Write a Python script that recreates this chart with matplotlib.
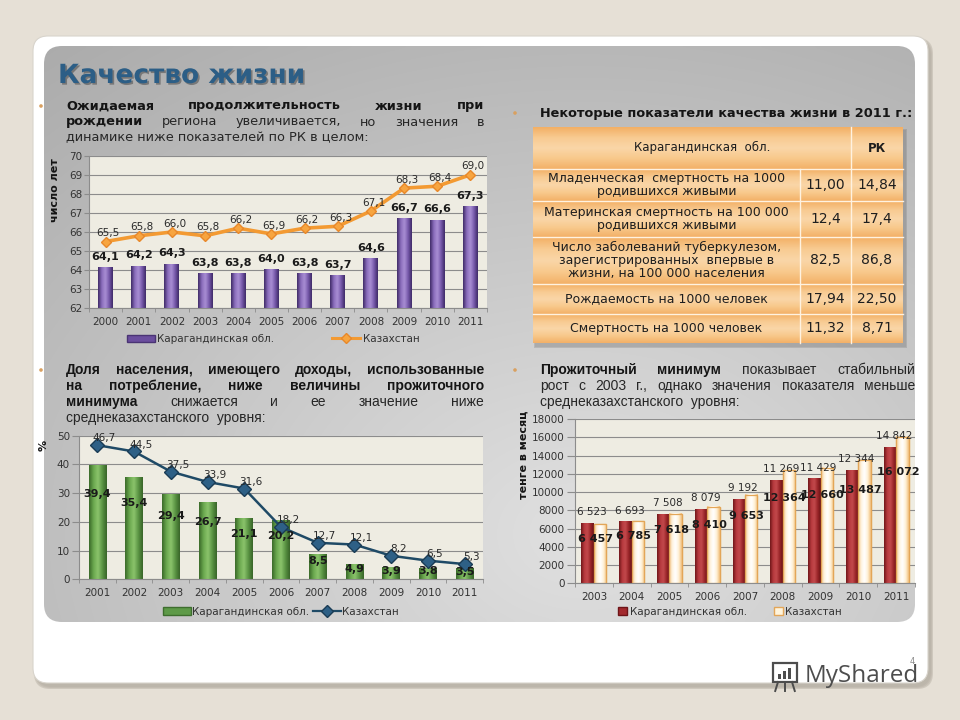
import numpy as np
import matplotlib as mpl
mpl.use('Agg')
import matplotlib.pyplot as plt
import matplotlib.patheffects as pe
from matplotlib.colors import LinearSegmentedColormap
from matplotlib.patches import FancyBboxPatch, Rectangle, Circle
from matplotlib.lines import Line2D

mpl.rc('font', family='DejaVu Sans')

# ---- data -------------------------------------------------------------
years_life = ['2000', '2001', '2002', '2003', '2004', '2005',
              '2006', '2007', '2008', '2009', '2010', '2011']
life_karaganda = [64.1, 64.2, 64.3, 63.8, 63.8, 64.0, 63.8, 63.7, 64.6, 66.7, 66.6, 67.3]
life_kaz = [65.5, 65.8, 66.0, 65.8, 66.2, 65.9, 66.2, 66.3, 67.1, 68.3, 68.4, 69.0]

years_share = ['2001', '2002', '2003', '2004', '2005', '2006',
               '2007', '2008', '2009', '2010', '2011']
share_karaganda = [39.4, 35.4, 29.4, 26.7, 21.1, 20.2, 8.5, 4.9, 3.9, 3.8, 3.5]
share_kaz = [46.7, 44.5, 37.5, 33.9, 31.6, 18.2, 12.7, 12.1, 8.2, 6.5, 5.3]

years_min = ['2003', '2004', '2005', '2006', '2007', '2008', '2009', '2010', '2011']
min_karaganda = [6523, 6693, 7508, 8079, 9192, 11269, 11429, 12344, 14842]
min_kaz = [6457, 6785, 7618, 8410, 9653, 12364, 12660, 13487, 16072]

table_header = ['Карагандинская  обл.', 'РК']
table_rows = [
    'Младенческая  смертность на 1000\nродившихся живыми',
    'Материнская смертность на 100 000\nродившихся живыми',
    'Число заболеваний туберкулезом,\nзарегистрированных  впервые в\nжизни, на 100 000 населения',
    'Рождаемость на 1000 человек',
    'Смертность на 1000 человек',
]
table_region = ['11,00', '12,4', '82,5', '17,94', '11,32']
table_rk = ['14,84', '17,4', '86,8', '22,50', '8,71']

legend_names = ['Карагандинская обл.', 'Казахстан']

W, H = 960, 720


def comma(v):
    return f'{v:.1f}'.replace('.', ',')


def spaced(v):
    return f'{v:,}'.replace(',', ' ')


def shade(ax, bars, colors, floor=0):
    # horizontal gradient drawn over each bar, limited to the visible range
    cmap = LinearSegmentedColormap.from_list('shade', colors)
    grad = np.linspace(0, 1, 64).reshape(1, -1)
    for b in bars:
        x0 = b.get_x()
        y0 = max(b.get_y(), floor)
        ax.imshow(grad, cmap=cmap, aspect='auto', interpolation='bicubic',
                  extent=(x0, x0 + b.get_width(), y0, b.get_y() + b.get_height()),
                  zorder=b.get_zorder() + 0.1)


def style_axes(ax, n):
    ax.set_facecolor('#EEECE2')
    ax.set_xlim(-0.5, n - 0.5)
    ax.set_xticks(np.arange(n))
    ax.set_xticks(np.arange(n + 1) - 0.5, minor=True)
    ax.tick_params(axis='x', which='major', length=0, pad=6.5, labelsize=7.5,
                   labelcolor='#333333')
    ax.tick_params(axis='x', which='minor', length=3, color='#8C8C8C')
    ax.tick_params(axis='y', length=3.5, pad=1.5, labelsize=7.5,
                   labelcolor='#333333', color='#8C8C8C')
    ax.grid(axis='y', color='#8C8C8C', lw=0.8, zorder=0)
    ax.set_axisbelow(True)
    for s in ('top', 'right'):
        ax.spines[s].set_visible(False)
    for s in ('left', 'bottom'):
        ax.spines[s].set_color('#8C8C8C')
        ax.spines[s].set_linewidth(0.8)


fig = plt.figure(figsize=(W / 100, H / 100), dpi=100)
fig.patch.set_facecolor('#E6E0D6')

# ---- background slide in pixel coordinates ----------------------------
bg = fig.add_axes([0, 0, 1, 1], zorder=0)
bg.set_xlim(0, W)
bg.set_ylim(H, 0)
bg.axis('off')

for k, a in enumerate([0.10, 0.16, 0.25]):
    bg.add_patch(FancyBboxPatch((36 - k, 40 - k), 895 + 2 * k, 647 + 2 * k,
                                boxstyle='round,pad=0,rounding_size=16',
                                fc='#8A8175', ec='none', alpha=a))
bg.add_patch(FancyBboxPatch((33, 36), 895, 647, boxstyle='round,pad=0,rounding_size=15',
                            fc='white', ec='#D8D4CC', lw=0.8))

panel = FancyBboxPatch((44, 46), 871, 576, boxstyle='round,pad=0,rounding_size=18',
                       fc='none', ec='none')
bg.add_patch(panel)
uu, vv = np.meshgrid(np.linspace(0, 1, 200), np.linspace(0, 1, 150))
rr = np.sqrt(((uu - 0.62) / 0.8) ** 2 + ((vv - 0.85) / 0.9) ** 2)
val = np.clip(0.88 - 0.17 * rr, 0, 1)
img = bg.imshow(np.dstack([val, val, val]), extent=(44, 915, 622, 46),
                aspect='auto', interpolation='bicubic', zorder=1)
img.set_clip_path(panel)

# title
bg.text(58, 76, 'Качество жизни', fontsize=19, fontweight='bold', color='#2C5E86',
        va='center', ha='left', zorder=3,
        path_effects=[pe.withSimplePatchShadow(offset=(1.2, -1.2),
                                               shadow_rgbFace='#333333', alpha=0.45)])

renderer = fig.canvas.get_renderer()


def text_line(words, x0, x1, y, size, family, justify=True):
    texts = []
    for w, bold in words:
        t = bg.text(x0, y, w, fontsize=size, family=family, va='center', ha='left',
                    fontweight='bold' if bold else 'normal',
                    color='#151515' if bold else '#262626', zorder=3)
        texts.append(t)
    if not justify or len(texts) == 1:
        return
    widths = [t.get_window_extent(renderer).width for t in texts]
    gap = (x1 - x0 - sum(widths)) / (len(texts) - 1)
    x = x0
    for t, w in zip(texts, widths):
        t.set_x(x)
        x += w + gap


B, N = True, False
para1 = [
    [('Ожидаемая', B), ('продолжительность', B), ('жизни', B), ('при', B)],
    [('рождении', B), ('региона', N), ('увеличивается,', N), ('но', N),
     ('значения', N), ('в', N)],
    [('динамике ниже показателей по РК в целом:', N)],
]
for i, words in enumerate(para1):
    text_line(words, 66, 484, 106 + 16 * i, 9.3, 'DejaVu Sans', justify=i < 2)

text_line([('Некоторые показатели качества жизни в 2011 г.:', B)], 540, 925, 113,
          9.3, 'DejaVu Sans', justify=False)

narrow = 'Liberation Sans'
para3 = [
    [('Доля', B), ('населения,', B), ('имеющего', B), ('доходы,', B),
     ('использованные', B)],
    [('на', B), ('потребление,', B), ('ниже', B), ('величины', B),
     ('прожиточного', B)],
    [('минимума', B), ('снижается', N), ('и', N), ('ее', N), ('значение', N),
     ('ниже', N)],
    [('среднеказахстанского  уровня:', N)],
]
for i, words in enumerate(para3):
    text_line(words, 66, 484, 370 + 16 * i, 10, narrow, justify=i < 3)

para4 = [
    [('Прожиточный', B), ('минимум', B), ('показывает', N), ('стабильный', N)],
    [('рост', N), ('с', N), ('2003', N), ('г.,', N), ('однако', N), ('значения', N),
     ('показателя', N), ('меньше', N)],
    [('среднеказахстанского  уровня:', N)],
]
for i, words in enumerate(para4):
    text_line(words, 540, 915, 370 + 16 * i, 10, narrow, justify=i < 2)

for bx, by in [(41, 106), (515, 113), (41, 370), (515, 370)]:
    bg.add_patch(Circle((bx, by), 1.8, fc='#D9A060', ec='none', zorder=3))

# axis titles placed like the slide
bg.text(55, 190, 'число лет', rotation=90, fontsize=8, fontweight='bold',
        va='center', ha='center', color='#151515', zorder=3)
bg.text(44, 445, '%', rotation=90, fontsize=8, fontweight='bold',
        va='center', ha='center', color='#151515', zorder=3)
bg.text(524, 455, 'тенге в месяц', rotation=90, fontsize=8, fontweight='bold',
        va='center', ha='center', color='#151515', zorder=3)

# ---- table ------------------------------------------------------------
row_edges = [127, 169, 201, 237, 284, 314, 343]
tx0, tc1, tc2, tx1 = 533, 800, 851, 903
for k, a in enumerate([0.12, 0.2]):
    bg.add_patch(Rectangle((tx0 + 2 - k, row_edges[0] + 3 - k), tx1 - tx0 + 2 * k + 1,
                           row_edges[-1] - row_edges[0] + 2 * k + 1,
                           fc='#555555', ec='none', alpha=a, zorder=2))
cell_cmap = LinearSegmentedColormap.from_list('cell', ['#F3B066', '#F8CB92', '#FAD6A8',
                                                       '#F8C98C', '#F3B168'])
for top, bot in zip(row_edges[:-1], row_edges[1:]):
    gy = np.linspace(0, 1, 40).reshape(-1, 1)
    bg.imshow(gy, cmap=cell_cmap, extent=(tx0, tx1, bot, top), aspect='auto',
              interpolation='bicubic', zorder=2.5)
for y in row_edges[1:-1]:
    bg.plot([tx0, tx1], [y, y], color='#FFF2E0', lw=1, zorder=2.6)
bg.plot([tc2, tc2], [row_edges[0], row_edges[-1]], color='#FFF2E0', lw=1, zorder=2.6)
bg.plot([tc1, tc1], [row_edges[1], row_edges[-1]], color='#FFF2E0', lw=1, zorder=2.6)

bg.text((tx0 + tc2) / 2 + 10, (row_edges[0] + row_edges[1]) / 2 - 1, table_header[0],
        fontsize=8.5, ha='center', va='center', color='#1E1E1E', zorder=3)
bg.text((tc2 + tx1) / 2, (row_edges[0] + row_edges[1]) / 2, table_header[1],
        fontsize=8.5, fontweight='bold', ha='center', va='center', color='#1E1E1E', zorder=3)
for i, name in enumerate(table_rows):
    yc = (row_edges[i + 1] + row_edges[i + 2]) / 2
    bg.text((tx0 + tc1) / 2, yc, name, fontsize=9, ha='center', va='center',
            linespacing=1.0, color='#1E1E1E', zorder=3)
    bg.text((tc1 + tc2) / 2, yc, table_region[i], fontsize=10, ha='center',
            va='center', color='#1E1E1E', zorder=3)
    bg.text((tc2 + tx1) / 2, yc, table_rk[i], fontsize=10, ha='center',
            va='center', color='#1E1E1E', zorder=3)

# ---- watermark ----------------------------------------------------------
bg.add_patch(Rectangle((773, 663), 24, 19, fc='none', ec='#4D4D4D', lw=1.6, zorder=3))
for j, hh in enumerate([5, 8, 11]):
    bg.add_patch(Rectangle((778 + 5 * j, 679 - hh), 3, hh, fc='#4D4D4D', ec='none', zorder=3))
for lx in (778, 785, 792):
    bg.plot([lx, lx + (lx - 785) * 0.4], [682, 691], color='#4D4D4D', lw=1.4, zorder=3)
bg.text(805, 676, 'MyShared', fontsize=17.5, color='#4D4D4D', va='center', ha='left',
        family='Open Sans', zorder=3)
bg.text(912, 661, '4', fontsize=6, color='#8A8A8A', va='center', ha='center', zorder=3)

# ---- chart 1: life expectancy ----------------------------------------
ax1 = fig.add_axes([89 / W, 1 - 308.3 / H, 398 / W, 152.6 / H], zorder=2)
x1 = np.arange(len(years_life))
bars1 = ax1.bar(x1, life_karaganda, width=0.45, color='#6B4E9E', zorder=2)
shade(ax1, bars1, ['#3E2A66', '#8A6CBC', '#A98FD4', '#7658AA', '#3E2A66'], floor=62)
ax1.plot(x1, life_kaz, color='#F39A32', lw=2.6, marker='D', ms=5.5,
         mfc='#F7A540', mec='#E8882A', zorder=4)
style_axes(ax1, len(years_life))
ax1.set_ylim(62, 70)
ax1.set_yticks(np.arange(62, 71, 1))
ax1.set_xticklabels(years_life)
for xi, v in zip(x1, life_karaganda):
    ax1.annotate(comma(v), (xi, v), xytext=(0, 8), textcoords='offset points',
                 ha='center', va='center', fontsize=8, fontweight='bold',
                 color='#1A1A1A', zorder=5)
for xi, v in zip(x1, life_kaz):
    ax1.annotate(comma(v), (xi, v), xytext=(2, 6), textcoords='offset points',
                 ha='center', va='center', fontsize=7.5, color='#2A2A2A', zorder=5)
h1 = [Rectangle((0, 0), 1, 1, fc='#6B4E9E', ec='#4A3474'),
      Line2D([], [], color='#F39A32', lw=2.2, marker='D', ms=5, mfc='#F7A540', mec='#E8882A')]
fig.legend(h1, legend_names, loc='center', bbox_to_anchor=(273 / W, 1 - 339 / H),
           ncol=2, frameon=False, fontsize=7.5, handlelength=2.7, handletextpad=0.2,
           columnspacing=5.6, labelcolor='#333333')

# ---- chart 2: share of population -------------------------------------
ax2 = fig.add_axes([79 / W, 1 - 579.3 / H, 404 / W, 143.6 / H], zorder=2)
x2 = np.arange(len(years_share))
bars2 = ax2.bar(x2, share_karaganda, width=0.48, color='#5E9A48', zorder=2)
shade(ax2, bars2, ['#3A6A2A', '#6AA84E', '#8CC46C', '#5A9444', '#386428'])
ax2.plot(x2, share_kaz, color='#1F4A66', lw=1.8, marker='D', ms=7.5,
         mfc='#2E6086', mec='#1A3C55', zorder=4)
style_axes(ax2, len(years_share))
ax2.set_ylim(0, 50)
ax2.set_yticks(np.arange(0, 51, 10))
ax2.tick_params(axis='y', length=5)
ax2.set_xticklabels(years_share)
for xi, v in zip(x2, share_karaganda):
    ax2.text(xi, max(0.75 * v, 2.3), comma(v), ha='center', va='center', fontsize=8,
             fontweight='bold', color='#1A1A1A', zorder=5)
for xi, v in zip(x2, share_kaz):
    ax2.annotate(comma(v), (xi, v), xytext=(5, 5), textcoords='offset points',
                 ha='center', va='center', fontsize=7.5, color='#2A2A2A', zorder=5)
h2 = [Rectangle((0, 0), 1, 1, fc='#5E9A48', ec='#3E6E2E'),
      Line2D([], [], color='#1F4A66', lw=1.6, marker='D', ms=6, mfc='#2E6086', mec='#1A3C55')]
fig.legend(h2, legend_names, loc='center', bbox_to_anchor=(281 / W, 1 - 611.7 / H),
           ncol=2, frameon=False, fontsize=7.5, handlelength=2.7, handletextpad=0.1,
           columnspacing=0.4, labelcolor='#333333')

# ---- chart 3: subsistence minimum -------------------------------------
ax3 = fig.add_axes([575 / W, 1 - 583.3 / H, 340 / W, 164.3 / H], zorder=2)
x3 = np.arange(len(years_min))
bw = 0.33
bars3a = ax3.bar(x3 - 0.165, min_karaganda, width=bw, color='#A32A2E', zorder=2)
shade(ax3, bars3a, ['#6E1518', '#B83A3E', '#C24A4C', '#9A2428', '#6A1416'])
bars3b = ax3.bar(x3 + 0.165, min_kaz, width=bw, color='#FFF4DC', ec='#E3A658',
                 lw=0.9, zorder=2)
shade(ax3, bars3b, ['#F2C486', '#FFF4E0', '#FFFFFF', '#FFF2D8', '#F0BE7A'])
for b in bars3b:
    ax3.add_patch(Rectangle((b.get_x(), b.get_y()), b.get_width(), b.get_height(),
                            fc='none', ec='#E3A658', lw=0.9, zorder=2.3))
style_axes(ax3, len(years_min))
ax3.set_ylim(0, 18000)
ax3.set_yticks(np.arange(0, 18001, 2000))
ax3.tick_params(axis='y', length=6, pad=1.5)
ax3.set_xticklabels(years_min)
for xi, v in zip(x3, min_karaganda):
    ax3.text(xi - 0.05, v + 1250, spaced(v), ha='center', va='center', fontsize=7.5,
             color='#2A2A2A', zorder=5)
for xi, v in zip(x3, min_kaz):
    ax3.text(xi + 0.05, 0.76 * v, spaced(v), ha='center', va='center', fontsize=8,
             fontweight='bold', color='#1A1A1A', zorder=5)
h3 = [Rectangle((0, 0), 1, 1, fc='#A32A2E', ec='#6E1518'),
      Rectangle((0, 0), 1, 1, fc='#FFF4DC', ec='#E3A658')]
fig.legend(h3, legend_names, loc='center', bbox_to_anchor=(730 / W, 1 - 611.7 / H),
           ncol=2, frameon=False, fontsize=7.5, handlelength=0.9, handleheight=0.9,
           handletextpad=0.2, columnspacing=2.6, labelcolor='#333333')

fig.savefig('out.png', dpi=100, facecolor=fig.get_facecolor())
